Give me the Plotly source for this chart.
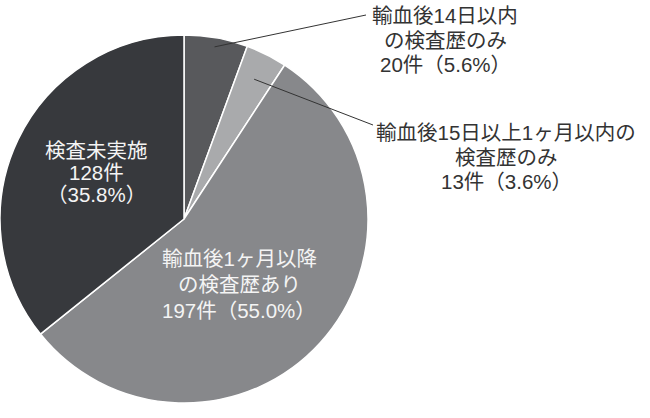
import math
import plotly.graph_objects as go

# ---- data ----
categories = [
    "輸血後14日以内の検査歴のみ",
    "輸血後15日以上1ヶ月以内の検査歴のみ",
    "輸血後1ヶ月以降の検査歴あり",
    "検査未実施",
]
counts = [20, 13, 197, 128]
percent_labels = ["5.6%", "3.6%", "55.0%", "35.8%"]
label_lines = [
    ["輸血後14日以内", "の検査歴のみ", "20件（5.6%）"],
    ["輸血後15日以上1ヶ月以内の", "検査歴のみ", "13件（3.6%）"],
    ["輸血後1ヶ月以降", "の検査歴あり", "197件（55.0%）"],
    ["検査未実施", "128件", "（35.8%）"],
]
slice_colors = ["#58595c", "#a9aaac", "#87888b", "#37393d"]

# ---- layout geometry ----
W, H = 650, 418
dom_x = [0, 368 / W]
dom_y = [1 - 412 / H, 1 - 26 / H]
cx_px = (dom_x[0] + dom_x[1]) / 2 * W
cy_px = H - (dom_y[0] + dom_y[1]) / 2 * H
r_px = min((dom_x[1] - dom_x[0]) * W, (dom_y[1] - dom_y[0]) * H) / 2


def px2paper(x, y):
    return x / W, 1 - y / H


fig = go.Figure(
    go.Pie(
        labels=categories,
        values=counts,
        sort=False,
        direction="clockwise",
        rotation=0,
        marker=dict(colors=slice_colors, line=dict(color="white", width=1.5)),
        textinfo="none",
        hoverinfo="label+value+percent",
        domain=dict(x=dom_x, y=dom_y),
        showlegend=False,
    )
)

# mid angles of slices (clockwise from 12 o'clock)
total = sum(counts)
mids = []
acc = 0
for c in counts:
    mids.append((acc + c / 2) / total * 360)
    acc += c

FONT = "Liberation Sans, Arial, Noto Sans CJK JP"

# leader lines for the two small slices
leader_frac = [0.95, 0.85]
leader_end = [(366, 15), (373, 125)]
for i in range(2):
    th = math.radians(mids[i])
    sx = cx_px + leader_frac[i] * r_px * math.sin(th)
    sy = cy_px - leader_frac[i] * r_px * math.cos(th)
    x0, y0 = px2paper(sx, sy)
    x1, y1 = px2paper(*leader_end[i])
    fig.add_shape(type="line", xref="paper", yref="paper",
                  x0=x0, y0=y0, x1=x1, y1=y1,
                  line=dict(color="#333333", width=1))

# label block placement: (center x, first line y, line step) in px
label_pos = [(445, 15, 25), (506, 133, 24.5), (239, 258, 26), (96, 150, 22.5)]
label_colors = ["#333333", "#333333", "#f4f4f4", "#f4f4f4"]
for i, lines in enumerate(label_lines):
    cxl, y0l, step = label_pos[i]
    for j, line in enumerate(lines):
        x, y = px2paper(cxl, y0l + j * step)
        fig.add_annotation(x=x, y=y, xref="paper", yref="paper", text=line,
                           showarrow=False, xanchor="center", yanchor="middle",
                           align="center",
                           font=dict(family=FONT, size=20.5, color=label_colors[i]))

fig.update_layout(
    width=W, height=H,
    margin=dict(l=0, r=0, t=0, b=0),
    paper_bgcolor="white",
    plot_bgcolor="white",
    font=dict(family=FONT),
)

fig.write_html("out.html")
